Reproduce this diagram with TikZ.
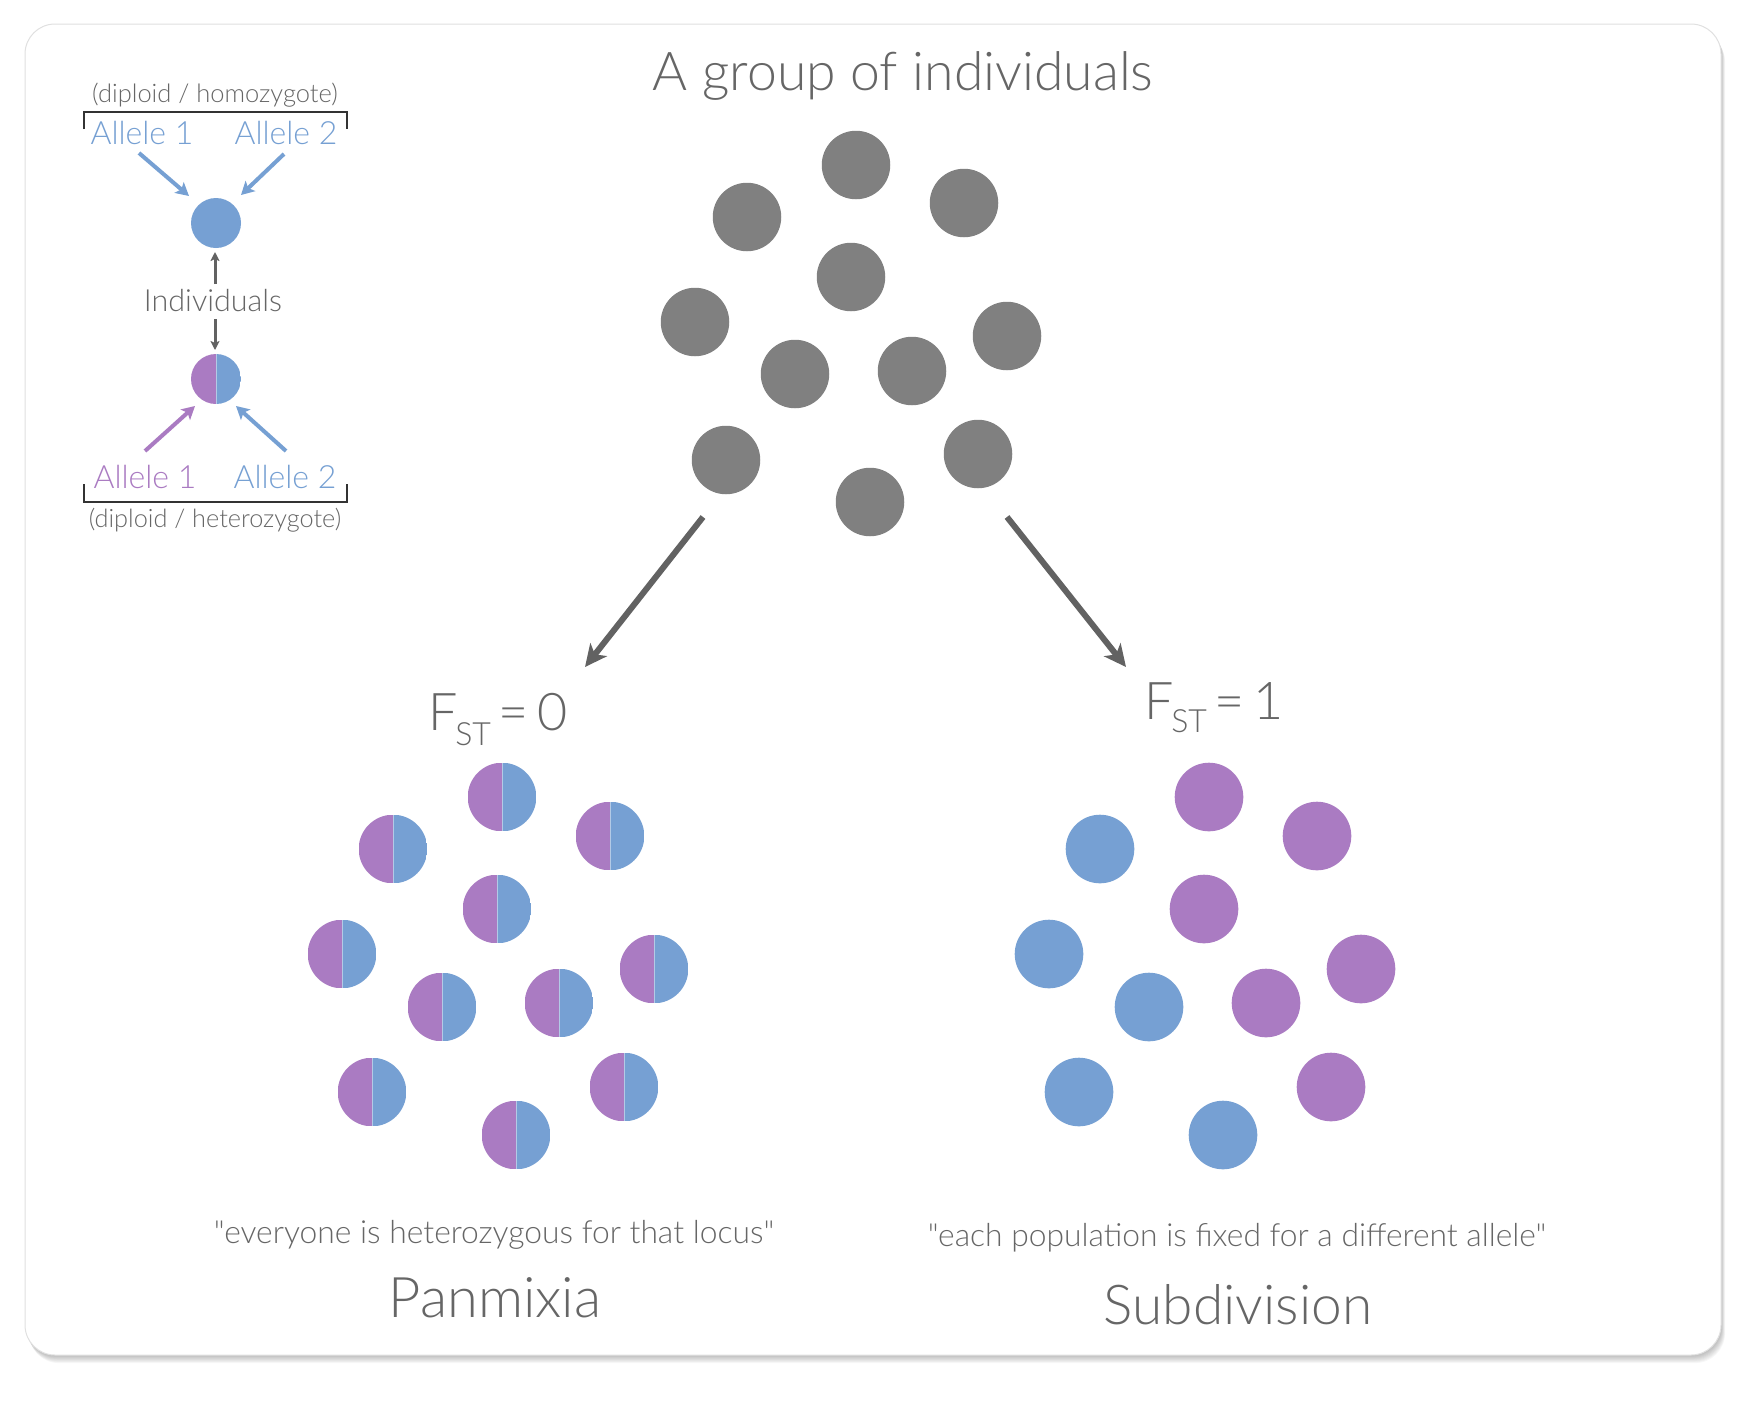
\documentclass[tikz,border=0pt]{standalone}
\usepackage{fontspec}
\setmainfont{Lato Light}[Ligatures=TeXOff]
\usetikzlibrary{arrows.meta}
\definecolor{purp}{HTML}{AA7BC2}
\definecolor{blu}{HTML}{76A0D3}
\definecolor{gc}{HTML}{808080}
\definecolor{txt}{HTML}{666666}
\definecolor{arr}{HTML}{626262}
\definecolor{brk}{HTML}{333333}
\begin{document}
\begin{tikzpicture}[x=1pt,y=-1pt,
  every node/.style={inner sep=0pt, outer sep=0pt},
  lbl/.style={text=txt, anchor=base},
  fs/.style={font=\fontsize{#1}{#1}\selectfont},
  ind/.style={circle, minimum size=68.5pt, fill=gc},
  homb/.style={circle, minimum size=#1, fill=blu},
  het/.style={circle, minimum size=#1, path picture={
     \fill[purp] (path picture bounding box.north west) rectangle (path picture bounding box.south);
     \fill[blu] (path picture bounding box.north) rectangle (path picture bounding box.south east);
     \draw[white, opacity=.45, line width=0.8pt] (path picture bounding box.north) -- (path picture bounding box.south);}},
  bigarrow/.style={draw=arr, line width=6pt, -{Stealth[length=22pt, width=21pt, inset=6pt]}},
  smallarrow/.style={line width=4pt, -{Stealth[length=13pt, width=14pt, inset=3pt]}},
  grayarrow/.style={draw=arr, line width=3pt, -{Stealth[length=9pt, width=9pt, inset=2pt]}},
  bracket/.style={draw=brk, line width=1.5pt}
]
\useasboundingbox (0,0) rectangle (1761,1401);
% card with shadow
\foreach \i in {1,...,9}
  \fill[black, opacity=0.03, rounded corners=30pt] (25+\i*0.45,24+\i*0.9) rectangle (1721+\i*0.45,1355+\i*0.9);
\filldraw[fill=white, draw=black!12, line width=1pt, rounded corners=30pt] (25,24) rectangle (1721,1355);

% title
\node[lbl, fs=53.5] (title) at (903,90) {A group of individuals};

% group of individuals
\node[ind] (g1) at (856,165) {};
\node[ind] (g2) at (747,217) {};
\node[ind] (g3) at (964,203) {};
\node[ind] (g4) at (851,277) {};
\node[ind] (g5) at (695,322) {};
\node[ind] (g6) at (795,374) {};
\node[ind] (g7) at (912,371) {};
\node[ind] (g8) at (1007,336) {};
\node[ind] (g9) at (726,460) {};
\node[ind] (g10) at (978,454) {};
\node[ind] (g11) at (870,502) {};

% main arrows
\coordinate (la0) at (703,517);
\coordinate (la1) at (585,667);
\coordinate (ra0) at (1007,517);
\coordinate (ra1) at (1126,667);
\draw[bigarrow] (la0) -- (la1);
\draw[bigarrow] (ra0) -- (ra1);

% F_ST labels
\node[lbl, fs=52, anchor=base west] (f0) at (428,730) {F\kern-2pt\raisebox{-15pt}{\fontsize{32}{32}\selectfont ST}\kern7pt=\kern9pt0};
\node[lbl, fs=52, anchor=base west] (f1) at (1144,719) {F\kern-2pt\raisebox{-13pt}{\fontsize{32}{32}\selectfont ST}\kern7pt=\kern9pt1};

% panmixia
\foreach \n/\x/\y in {1/502/797,2/393/849,3/610/836,4/497/909,5/342/954,6/654/969,7/442/1007,8/559/1003,9/372/1092,10/624/1087,11/516/1135}
  \node[het=68.6pt] (p\n) at (\x,\y) {};

% subdivision
\foreach \n/\x/\y/\c in {1/1209/797/purp,2/1100/849/blu,3/1317/836/purp,4/1204/909/purp,5/1049/954/blu,6/1361/969/purp,7/1149/1007/blu,8/1266/1003/purp,9/1079/1092/blu,10/1331/1087/purp,11/1223/1135/blu}
  \node[circle, minimum size=68.6pt, fill=\c] (s\n) at (\x,\y) {};

% bottom texts
\node[lbl, fs=31.8] (q1) at (494,1243) {"everyone is heterozygous for that locus"};
\node[lbl, fs=56] (pan) at (495,1317) {Panmixia};
\node[lbl, fs=31.8] (q2) at (1237,1246) {"each population is fixed for a different allele"};
\node[lbl, fs=55] (sub) at (1238,1324) {Subdivision};

% legend
\node[lbl, fs=25.5] (dh) at (215,102) {(diploid / homozygote)};
\node[lbl, fs=32, text=blu] (a1t) at (142,144) {Allele 1};
\node[lbl, fs=32, text=blu] (a2t) at (286,144) {Allele 2};
\draw[bracket] (84,129) -- (84,112) -- (347,112) -- (347,129);
\node[homb=50pt] (hom) at (216,223) {};
\coordinate (a1s) at (139,153);
\coordinate (a1e) at (189,196);
\coordinate (a2s) at (284,154);
\coordinate (a2e) at (241,195);
\draw[smallarrow, blu] (a1s) -- (a1e);
\draw[smallarrow, blu] (a2s) -- (a2e);

\node[lbl, fs=30.5] (indv) at (213,311) {Individuals};
\coordinate (u0) at (215,284);
\coordinate (u1) at (215,252);
\coordinate (d0) at (215,319);
\coordinate (d1) at (215,350);
\draw[grayarrow] (u0) -- (u1);
\draw[grayarrow] (d0) -- (d1);

\node[het=50pt] (hetl) at (216,379) {};
\coordinate (b1s) at (145,451);
\coordinate (b1e) at (195,406);
\coordinate (b2s) at (286,451);
\coordinate (b2e) at (236,406);
\draw[smallarrow, purp] (b1s) -- (b1e);
\draw[smallarrow, blu] (b2s) -- (b2e);
\node[lbl, fs=32, text=purp] (b1t) at (145,488) {Allele 1};
\node[lbl, fs=32, text=blu] (b2t) at (285,488) {Allele 2};
\draw[bracket] (84,484) -- (84,502) -- (347,502) -- (347,484);
\node[lbl, fs=25.3] (dhet) at (215,527) {(diploid / heterozygote)};
\end{tikzpicture}
\end{document}
